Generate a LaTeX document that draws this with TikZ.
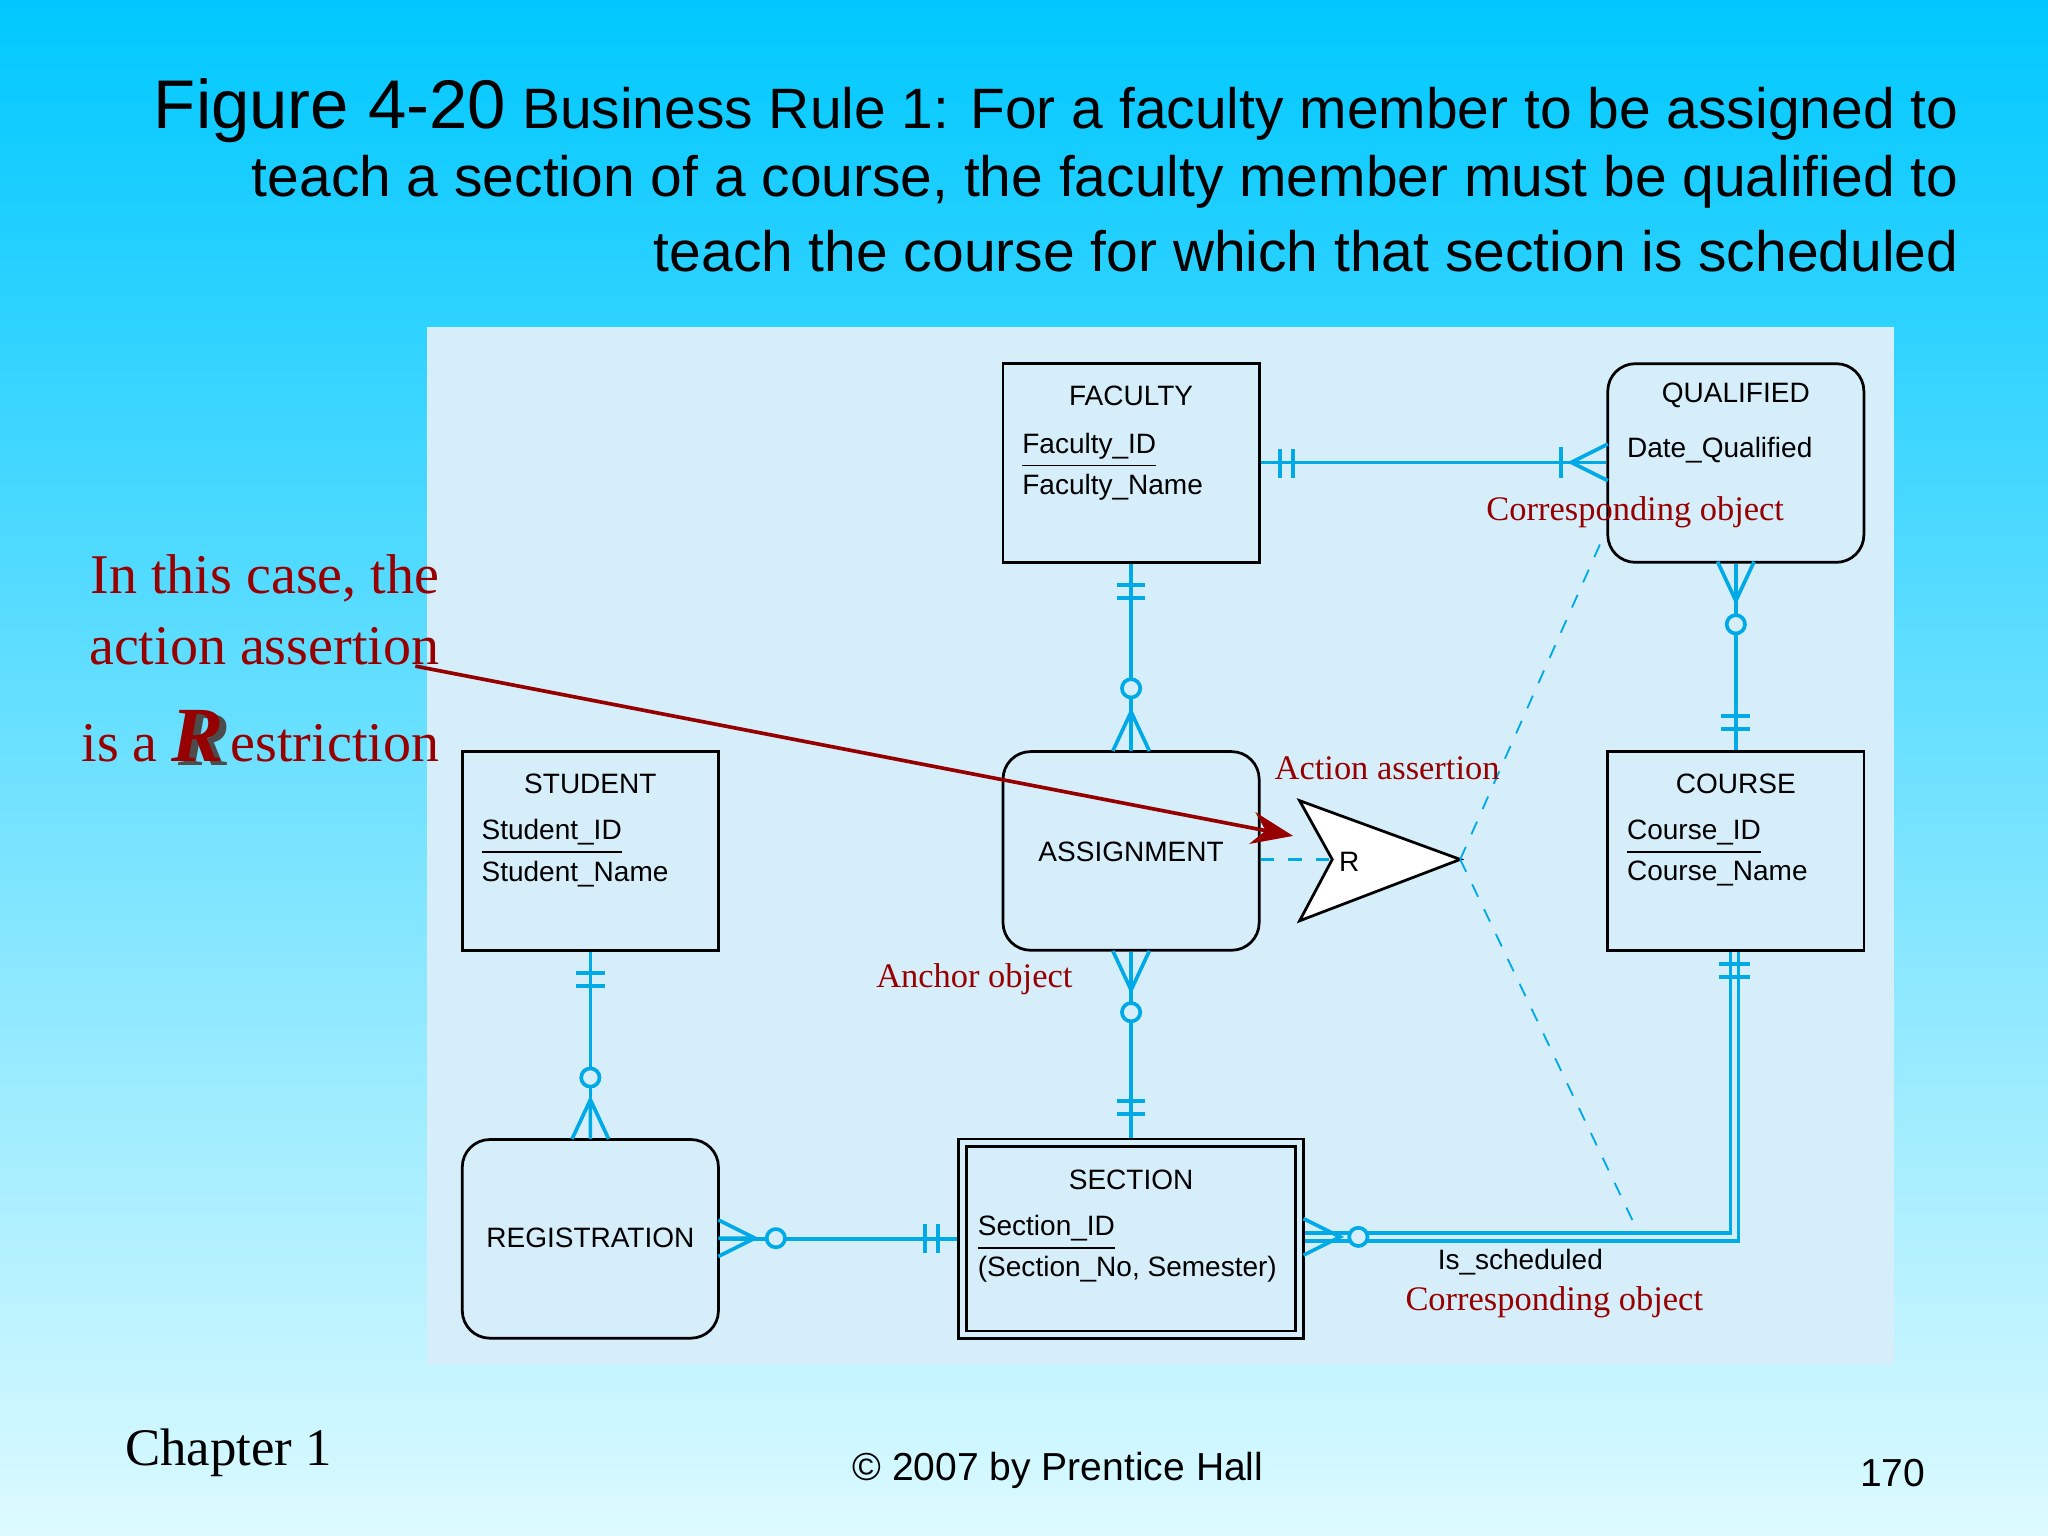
\documentclass[tikz,border=0pt]{standalone}
\usepackage{fontspec}
\setmainfont{Liberation Serif}
\setsansfont{Liberation Sans}
\usetikzlibrary{arrows.meta}
\definecolor{er}{RGB}{0,170,230}
\definecolor{dred}{RGB}{150,0,0}
\definecolor{panel}{RGB}{214,238,250}
\begin{document}
\begin{tikzpicture}[x=0.01cm,y=-0.01cm,
 ent/.style={draw,semithick,minimum width=1.96cm,minimum height=1.52cm,fill=panel},
 rent/.style={ent,rounded corners=6pt},
 etxt/.style={font=\sffamily\fontsize{6.1}{7}\selectfont,inner sep=0pt},
 rl/.style={line width=0.8pt,er},
 red/.style={text=dred,font=\fontsize{7.5}{8}\selectfont,inner sep=0pt},
 big/.style={text=dred,font=\fontsize{12.2}{13}\selectfont,inner sep=0pt,anchor=east}]
\shade[top color={rgb,255:red,0;green,200;blue,255},bottom color={rgb,255:red,220;green,250;blue,255}] (0,0) rectangle (1568,1176);
\useasboundingbox (0,0) rectangle (1568,1176);
\fill[panel] (327,250) rectangle (1450,1045);
% title
\node[anchor=east,inner sep=0pt,font=\sffamily\fontsize{12.4}{14}\selectfont] (t1) at (1500,85) {{\fontsize{15}{16}\selectfont Figure 4-20} Business Rule 1: For a faculty member to be assigned to};
\node[anchor=east,inner sep=0pt,font=\sffamily\fontsize{12.4}{14}\selectfont] (t2) at (1500,139) {teach a section of a course, the faculty member must be qualified to};
\node[anchor=east,inner sep=0pt,font=\sffamily\fontsize{12.4}{14}\selectfont] (t3) at (1500,192) {teach the course for which that section is scheduled};
% entities
\node[ent] (fac) at (866,354.5) {};
\node[rent] (qua) at (1329,354.5) {};
\node[ent] (stu) at (452,651.5) {};
\node[rent] (asg) at (866,651.5) {};
\node[ent] (cou) at (1329,651.5) {};
\node[rent] (reg) at (452,948.5) {};
\node[ent,minimum width=2.64cm,minimum height=1.53cm] (sec) at (866,948.5) {};
\draw[semithick] (740,878) rectangle (992,1019);
\node[etxt] at (866,303) {FACULTY};
\node[etxt,anchor=west] at (782,345) {\underline{Faculty\_ID}};
\node[etxt,anchor=west] at (782,373) {Faculty\_Name};
\node[etxt] at (1329,303) {QUALIFIED};
\node[etxt,anchor=west] at (1245,345) {Date\_Qualified};
\node[etxt] at (452,600) {STUDENT};
\node[etxt,anchor=west] at (368,641) {\underline{Student\_ID}};
\node[etxt,anchor=west] at (368,669) {Student\_Name};
\node[etxt] at (866,652) {ASSIGNMENT};
\node[etxt] at (1329,600) {COURSE};
\node[etxt,anchor=west] at (1245,641) {\underline{Course\_ID}};
\node[etxt,anchor=west] at (1245,669) {Course\_Name};
\node[etxt] at (452,948) {REGISTRATION};
\node[etxt] at (866,903) {SECTION};
\node[etxt,anchor=west] at (748,944) {\underline{Section\_ID}};
\node[etxt,anchor=west] at (748,972) {(Section\_No, Semester)};
% relationships
\draw[rl] (fac.east|-0,354) -- (qua.west|-0,354);
\draw[rl] (980,344)--(980,366) (990,344)--(990,366) (1195,342)--(1195,366);
\draw[rl] (1231,340)--(1203,354)--(1231,368);
\draw[rl] (fac.south) -- (asg.north);
\draw[rl] (855,448)--(877,448) (855,458)--(877,458);
\draw[rl,fill=panel] (866,527) circle (7);
\draw[rl] (852,575)--(866,545)--(880,575) (866,545)--(866,575);
\draw[rl] (qua.south) -- (cou.north);
\draw[rl] (1315,430)--(1329,460)--(1343,430);
\draw[rl,fill=panel] (1329,478) circle (7);
\draw[rl] (1318,548)--(1340,548) (1318,558)--(1340,558);
\draw[rl] (asg.south) -- (sec.north);
\draw[rl] (852,728)--(866,758)--(880,728);
\draw[rl,fill=panel] (866,775) circle (7);
\draw[rl] (855,843)--(877,843) (855,853)--(877,853);
\draw[rl] (stu.south) -- (reg.north);
\draw[rl] (441,745)--(463,745) (441,755)--(463,755);
\draw[rl,fill=panel] (452,825) circle (7);
\draw[rl] (438,872)--(452,842)--(466,872) (452,842)--(452,872);
\draw[rl] (reg.east) -- (sec.west);
\draw[rl] (550,934)--(578,948)--(550,962) (550,948)--(578,948);
\draw[rl,fill=panel] (594,948) circle (7);
\draw[rl] (708,937)--(708,959) (718,937)--(718,959);
\draw[rl] (sec.east|-0,944) -- (1325,944) -- (1325,0|-cou.south);
\draw[rl] (sec.east|-0,950) -- (1331,950) -- (1331,0|-cou.south);
\draw[rl] (998,933)--(1026,947)--(998,961);
\draw[rl,fill=panel] (1040,947) circle (7);
\draw[rl] (1316,738)--(1340,738) (1316,748)--(1340,748);
% R triangle
\draw[semithick,fill=white] (995,613) -- (1118,658) coordinate (tip) -- (995,705) -- (1020,658) coordinate (notch) -- cycle;
\node[etxt] (r) at (1033,660) {R};
\draw[rl,dashed] (asg.east|-0,658) -- (notch);
\draw[er,dashed,thin] (tip) -- (1228,410);
\draw[er,dashed,thin] (tip) -- (1255,945);
% labels
\node[red] at (1252,392) {Corresponding object};
\node[red] at (1062,588) {Action assertion};
\node[red] at (746,750) {Anchor object};
\node[etxt] at (1164,966) {Is\_scheduled};
\node[red] at (1190,997) {Corresponding object};
\node[big] (l1) at (337,443) {In this case, the};
\node[big] (l2) at (337,495) {action assertion};
\node[big] (l3) at (337,565) {is a \tikz[baseline]{\node[inner sep=0pt,anchor=base,text=gray!60!black] at (1.5pt,-1pt){\fontsize{17}{18}\selectfont\bfseries\itshape R};\node[inner sep=0pt,anchor=base,text=dred] at (0,0){\fontsize{17}{18}\selectfont\bfseries\itshape R};}estriction};
\coordinate (as) at (318,510);
\coordinate (ae) at (990,640);
\draw[dred,line width=0.8pt,-{Stealth[length=9pt,width=7pt]}] (as) -- (ae);
% footer
\node[inner sep=0pt,font=\fontsize{11.5}{13}\selectfont] (ch) at (175,1112) {Chapter 1};
\node[inner sep=0pt,font=\sffamily\fontsize{8.5}{10}\selectfont] (cp) at (810,1126) {© 2007 by Prentice Hall};
\node[inner sep=0pt,font=\sffamily\fontsize{8.5}{10}\selectfont] (pg) at (1449,1128) {170};
\end{tikzpicture}
\end{document}
